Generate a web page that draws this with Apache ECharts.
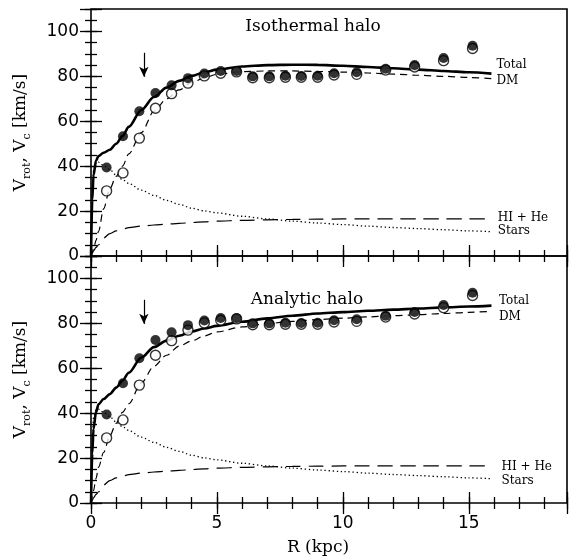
<!DOCTYPE html>
<html><head><meta charset="utf-8">
<script src="https://cdn.jsdelivr.net/npm/echarts@6/dist/echarts.min.js"></script>
<style>html,body{margin:0;padding:0;background:#fff}#c{width:570px;height:559px}</style>
</head><body><div id="c"></div>
<script>
// ---- observed rotation curve (same in both panels) ----
const R_OBS = [0.62, 1.27, 1.92, 2.56, 3.2, 3.85, 4.5, 5.15, 5.78, 6.42, 7.08, 7.72, 8.35, 9.0, 9.65, 10.55, 11.7, 12.85, 14.0, 15.15];
const V_ROT_FILLED = [39.4, 53.3, 64.5, 72.6, 76.0, 79.2, 81.3, 82.4, 82.4, 80.0, 80.0, 80.3, 80.2, 80.3, 81.4, 81.8, 83.4, 85.1, 88.2, 93.6];
const V_C_OPEN = [29.0, 37.0, 52.5, 65.8, 72.3, 77.0, 80.2, 81.4, 82.0, 79.4, 79.4, 79.6, 79.6, 79.6, 80.6, 80.9, 82.8, 84.2, 87.0, 92.4];

// ---- model curves ----
const R_MODEL = [0, 0.05, 0.1, 0.2, 0.3, 0.5, 0.75, 1, 1.25, 1.5, 2, 2.5, 3, 3.5, 4, 4.5, 5, 6, 7, 8, 9, 10, 11, 12, 13, 14, 15, 15.9];
const STARS = [0, 25, 38, 41.5, 41.8, 40.3, 38.5, 36, 34, 32.3, 29.3, 27, 24.8, 23, 21.3, 20.1, 19.2, 17.7, 16.5, 15.5, 14.7, 14, 13.3, 12.7, 12.2, 11.7, 11.2, 10.8];
const HI_HE = [0, 1.2, 2.3, 3.8, 5, 8, 10, 11.2, 12, 12.6, 13.3, 13.8, 14.2, 14.5, 14.9, 15.2, 15.5, 15.9, 16.1, 16.3, 16.4, 16.5, 16.5, 16.5, 16.5, 16.5, 16.5, 16.5];
const ISO_TOTAL = [0, 25, 36, 42.5, 44.5, 46, 47.3, 50, 53.4, 57.5, 65, 70.8, 75, 78, 80.2, 81.8, 83, 84.4, 85, 85.2, 85.1, 84.7, 84.2, 83.6, 83, 82.4, 81.8, 81.2];
const ISO_DM = [0, 1.5, 3, 7, 11, 21, 30, 35.5, 40, 45.5, 55, 64.5, 70, 74, 77.2, 79.4, 80.9, 82.1, 82.4, 82.4, 82.2, 81.9, 81.5, 81, 80.5, 80, 79.5, 79];
const AN_TOTAL = [0, 22, 33, 40.5, 44, 46.3, 48.5, 51.4, 54.5, 58, 64.8, 69.4, 72.3, 74.5, 76.4, 77.7, 78.9, 80.7, 82.2, 83.4, 84.4, 85, 85.6, 86.1, 86.6, 87.1, 87.5, 87.9];
const AN_DM = [0, 3, 5.5, 11, 16, 22.5, 30, 35.5, 40.4, 44.2, 53.5, 60.9, 65.8, 69.9, 72.2, 74.4, 76.2, 78.4, 79.9, 80.9, 81.7, 82.3, 82.9, 83.4, 83.9, 84.4, 84.9, 85.4];

const PANEL_TITLES = ['Isothermal halo', 'Analytic halo'];
const CURVE_LABELS = ['Total', 'DM', 'HI + He', 'Stars'];
const X_TICKS_MAJOR = 5, X_TICKS_MINOR = 1, Y_TICKS_MAJOR = 20, Y_TICKS_MINOR = 5;
const X_MAX = 18.9, Y_MAX = 110;

const zip = (xs, ys) => xs.map((x, i) => [x, ys[i]]);
const SERIF = 'DejaVu Serif';
const SANS = 'DejaVu Sans';

const chart = echarts.init(document.getElementById('c'), null, {renderer: 'canvas'});
const grids = [
  {left: 91, right: 3, top: 9, height: 247},
  {left: 91, right: 3, top: 256, height: 247}
];
grids.forEach(g => Object.assign(g, {show: true, borderColor: '#000', borderWidth: 1.6, backgroundColor: 'rgba(0,0,0,0)'}));

const xAxes = [], yAxes = [];
function tick(len) { return {show: true, inside: true, length: len, lineStyle: {color: '#000', width: 1.3}}; }
for (let g = 0; g < 2; g++) {
  const showX = g === 1;
  [['bottom', X_TICKS_MAJOR, 11, showX], ['bottom', X_TICKS_MINOR, 6, false], ['top', X_TICKS_MAJOR, 11, false], ['top', X_TICKS_MINOR, 6, false]]
    .forEach(([pos, iv, len, lab]) => xAxes.push({
      gridIndex: g, type: 'value', position: pos, min: 0, max: X_MAX, interval: iv,
      axisLine: {show: false}, axisTick: tick(len), splitLine: {show: false},
      axisLabel: {show: lab, margin: 12, color: '#000', fontFamily: SANS, fontSize: 17,
        formatter: v => (Math.abs(v % 5) < 1e-6 ? String(v) : '')}
    }));
  [['left', Y_TICKS_MAJOR, 11, true], ['left', Y_TICKS_MINOR, 6, false], ['right', Y_TICKS_MAJOR, 11, false], ['right', Y_TICKS_MINOR, 6, false]]
    .forEach(([pos, iv, len, lab], k) => yAxes.push({
      gridIndex: g, type: 'value', position: pos, min: 0, max: Y_MAX, interval: iv,
      axisLine: {show: false}, axisTick: tick(len), splitLine: {show: false},
      axisLabel: {show: lab, margin: 12, color: '#000', fontFamily: SANS, fontSize: 17,
        formatter: v => (v % 20 === 0 && v <= 100 ? String(v) : '')},
      name: k === 0 ? '{n|V}{s|rot}{n|, V}{s|c}{n| [km/s]}' : '',
      nameLocation: 'middle', nameGap: 58, nameRotate: 90,
      nameTextStyle: {color: '#000', fontFamily: SERIF, fontSize: 17,
        rich: {n: {fontFamily: SERIF, fontSize: 17, color: '#000', lineHeight: 24, verticalAlign: 'middle'},
               s: {fontFamily: SERIF, fontSize: 11, color: '#000', lineHeight: 24, verticalAlign: 'bottom'}}}
    }));
}

const series = [];
const models = [[ISO_TOTAL, ISO_DM], [AN_TOTAL, AN_DM]];
for (let g = 0; g < 2; g++) {
  const ax = {xAxisIndex: g * 4, yAxisIndex: g * 4};
  const lineBase = {type: 'line', showSymbol: false, symbol: 'none', smooth: 0.3, smoothMonotone: 'x', z: 2, silent: true, ...ax};
  series.push({...lineBase, name: 'DM' + g, data: zip(R_MODEL, models[g][1]), lineStyle: {color: '#000', width: 1.2, type: [7, 5]}});
  series.push({...lineBase, name: 'HI' + g, data: zip(R_MODEL, HI_HE), lineStyle: {color: '#000', width: 1.2, type: [15, 8]}});
  series.push({...lineBase, name: 'Stars' + g, data: zip(R_MODEL, STARS), lineStyle: {color: '#000', width: 1.3, type: [1.3, 2.7]}});
  series.push({...lineBase, name: 'Total' + g, data: zip(R_MODEL, models[g][0]), lineStyle: {color: '#000', width: 2.6},
    markLine: {silent: true, symbol: ['none', 'arrow'], symbolSize: [7, 10], animation: false,
      label: {show: false}, lineStyle: {color: '#000', width: 1.2, type: 'solid'},
      data: [[{coord: [2.1, 90.5]}, {coord: [2.1, 79.8]}]]}});
  series.push({type: 'scatter', ...ax, z: 3, symbol: 'circle', symbolSize: 10, data: zip(R_OBS, V_C_OPEN),
    itemStyle: {color: '#fff', borderColor: '#000', borderWidth: 1.4}, silent: true});
  series.push({type: 'scatter', ...ax, z: 4, symbol: 'circle', symbolSize: 10, data: zip(R_OBS, V_ROT_FILLED),
    itemStyle: {color: '#000', borderWidth: 0}, silent: true});
}

chart.setOption({animation: false, backgroundColor: '#fff', grid: grids, xAxis: xAxes, yAxis: yAxes, series});

// text annotations
const labelAnchors = [
  [[16.1, 85.0], [16.1, 78.2], [16.15, 17.2], [16.15, 11.2]],
  [[16.2, 89.9], [16.2, 82.9], [16.3, 15.9], [16.3, 10.0]]
];
const graphic = [];
for (let g = 0; g < 2; g++) {
  labelAnchors[g].forEach((p, i) => {
    const px = chart.convertToPixel({xAxisIndex: g * 4, yAxisIndex: g * 4}, p);
    graphic.push({type: 'text', x: px[0], y: px[1], style: {text: CURVE_LABELS[i], fill: '#000', font: '12px "' + SERIF + '"', textAlign: 'left', textVerticalAlign: 'middle'}});
  });
}
graphic.push({type: 'text', x: 313, y: 27, style: {text: PANEL_TITLES[0], fill: '#000', font: '17px "' + SERIF + '"', textAlign: 'center', textVerticalAlign: 'middle'}});
graphic.push({type: 'text', x: 307, y: 300, style: {text: PANEL_TITLES[1], fill: '#000', font: '17px "' + SERIF + '"', textAlign: 'center', textVerticalAlign: 'middle'}});
graphic.push({type: 'text', x: 318, y: 548, style: {text: 'R (kpc)', fill: '#000', font: '17px "' + SERIF + '"', textAlign: 'center', textVerticalAlign: 'middle'}});
chart.setOption({graphic});
</script></body></html>
